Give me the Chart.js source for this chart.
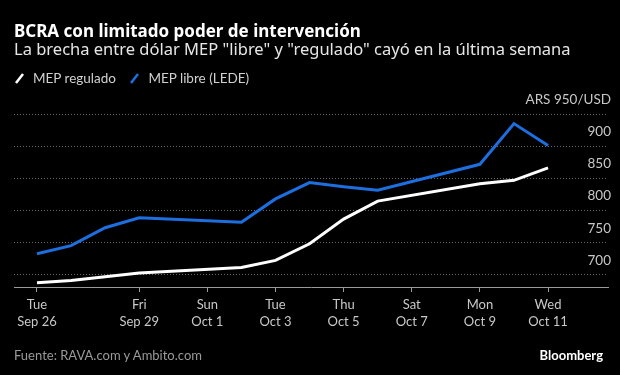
<!DOCTYPE html>
<html>
<head>
<meta charset="utf-8">
<script src="https://cdn.jsdelivr.net/npm/chart.js@4"></script>
<style>
    body { margin: 0; background: #000; font-family: 'Lato', sans-serif; }
    #wrap { position: relative; width: 620px; height: 375px; overflow: hidden; background: #000; }
    #chart { position: absolute; left: 0; top: 0; }
    .txt { position: absolute; white-space: nowrap; line-height: 1; }
    #title { left: 14px; top: 21.5px; font-family: 'Noto Sans', sans-serif; font-size: 17px; font-weight: bold; color: #fff; }
    #subtitle { left: 14px; top: 41px; font-family: 'Noto Sans', sans-serif; font-size: 16.5px; color: #e6e6e6; }
    #legend { left: 14px; top: 72px; font-size: 13.5px; color: #d0d0d0; }
    #legend svg { vertical-align: -1px; margin-right: 8px; }
    #legend span { margin-right: 10px; }
    #source { left: 14px; top: 348.5px; font-size: 13px; color: #9a9a9a; }
    #brand { right: 17px; top: 348.5px; font-size: 13px; font-weight: bold; color: #fff; }
</style>
</head>
<body>
<div id="wrap">
    <canvas id="chart" width="620" height="375"></canvas>
    <div class="txt" id="title">BCRA con limitado poder de intervención</div>
    <div class="txt" id="subtitle">La brecha entre dólar MEP "libre" y "regulado" cayó en la última semana</div>
    <div class="txt" id="legend">
        <span><svg width="11" height="12"><line x1="2" y1="11" x2="9" y2="2" stroke="#fff" stroke-width="2.5"/></svg>MEP regulado</span>
        <span><svg width="11" height="12"><line x1="2" y1="11" x2="9" y2="2" stroke="#1d6fe0" stroke-width="2.5"/></svg>MEP libre (LEDE)</span>
    </div>
    <div class="txt" id="source">Fuente: RAVA.com y Ambito.com</div>
    <div class="txt" id="brand">Bloomberg</div>
</div>
<script>
// datos: días desde el martes 26 de septiembre
const dayIndex = [0, 1, 2, 3, 6, 7, 8, 9, 10, 13, 14, 15];
const mepRegulado = [686.5, 690, 696, 702, 710.5, 721.5, 747.5, 786, 814, 841, 846.5, 866];
const mepLibre = [732, 744.5, 772.5, 788, 781, 817.5, 843, 836.5, 831, 871.5, 935, 901];

// ejes
const tickDays = [0, 3, 5, 7, 9, 11, 13, 15];
const tickWeekdays = ['Tue', 'Fri', 'Sun', 'Tue', 'Thu', 'Sat', 'Mon', 'Wed'];
const tickDates = ['Sep 26', 'Sep 29', 'Oct 1', 'Oct 3', 'Oct 5', 'Oct 7', 'Oct 9', 'Oct 11'];
const yTicks = [700, 750, 800, 850, 900, 950];

Chart.defaults.font.family = 'Lato';

const toPoints = vals => vals.map((v, i) => ({ x: dayIndex[i], y: v }));

new Chart(document.getElementById('chart').getContext('2d'), {
    type: 'line',
    data: {
        datasets: [
            { label: 'MEP regulado', data: toPoints(mepRegulado), borderColor: '#ffffff', borderWidth: 3 },
            { label: 'MEP libre (LEDE)', data: toPoints(mepLibre), borderColor: '#1d6fe0', borderWidth: 3 }
        ]
    },
    options: {
        responsive: false,
        animation: false,
        layout: { padding: { left: 14, right: 12, top: 114, bottom: 0 } },
        elements: { point: { radius: 0 }, line: { tension: 0 } },
        plugins: { legend: { display: false }, tooltip: { enabled: false } },
        scales: {
            x: {
                type: 'linear',
                min: -0.675,
                max: 16.76,
                afterFit: s => { s.height = 88; },
                afterBuildTicks: s => { s.ticks = tickDays.map(v => ({ value: v })); },
                grid: { drawOnChartArea: false, drawTicks: true, tickLength: 5, color: '#999' },
                border: { display: true, color: '#999', width: 1 },
                ticks: {
                    padding: 5,
                    color: '#c8c8c8',
                    font: { size: 13, lineHeight: 1.27 },
                    maxRotation: 0,
                    autoSkip: false,
                    callback: v => {
                        const i = tickDays.indexOf(v);
                        return i < 0 ? '' : [tickWeekdays[i], tickDates[i]];
                    }
                }
            },
            y: {
                position: 'right',
                min: 680,
                max: 950,
                afterFit: s => { s.width = 0; },
                afterBuildTicks: s => { s.ticks = yTicks.map(v => ({ value: v })); },
                grid: { drawTicks: false, color: '#6a6a6a', lineWidth: 1 },
                border: { display: false, dash: [1, 2] },
                ticks: {
                    mirror: true,
                    padding: 3,
                    labelOffset: -14,
                    color: '#c8c8c8',
                    font: { size: 13.5 },
                    callback: v => v === 950 ? 'ARS 950/USD' : v
                }
            }
        }
    }
});
</script>
</body>
</html>
